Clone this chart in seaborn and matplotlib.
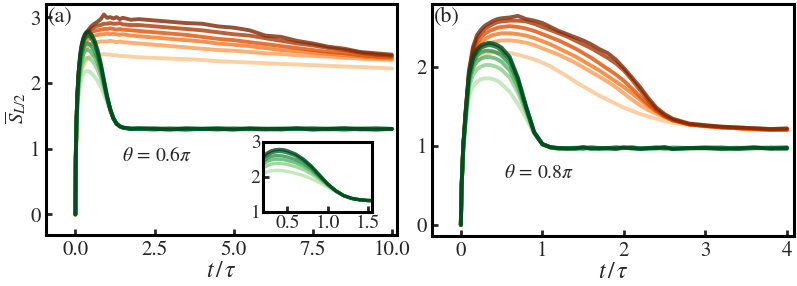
import numpy as np
import pandas as pd
import matplotlib
matplotlib.use("Agg")
import matplotlib.pyplot as plt
import seaborn as sns

# ---- panel (a): theta = 0.6 pi ----
t_a = [0, 0.01, 0.03, 0.06, 0.1, 0.15, 0.2, 0.25, 0.3, 0.35, 0.4, 0.45, 0.5, 0.6, 0.7,
       0.8, 0.9, 1.0, 1.1, 1.2, 1.3, 1.4, 1.5, 1.75, 2.0, 2.5, 3.0, 3.5, 4.0, 4.5,
       5.0, 5.5, 6.0, 6.5, 7.0, 7.5, 8.0, 8.5, 9.0, 9.5, 10.0]

orange_a = [
    [0, 0.75, 1.25, 1.6, 1.87, 2.06, 2.18, 2.26, 2.31, 2.35, 2.38, 2.4, 2.41, 2.42, 2.43,
     2.43, 2.44, 2.43, 2.43, 2.42, 2.42, 2.41, 2.41, 2.4, 2.39, 2.38, 2.37, 2.36, 2.35, 2.33,
     2.32, 2.31, 2.3, 2.29, 2.28, 2.27, 2.26, 2.25, 2.24, 2.23, 2.22],
    [0, 0.78, 1.3, 1.7, 2.0, 2.22, 2.35, 2.44, 2.5, 2.53, 2.56, 2.58, 2.59, 2.61, 2.62,
     2.63, 2.63, 2.63, 2.64, 2.63, 2.62, 2.63, 2.62, 2.61, 2.6, 2.58, 2.56, 2.54, 2.52, 2.5,
     2.49, 2.47, 2.45, 2.44, 2.42, 2.41, 2.4, 2.38, 2.37, 2.36, 2.35],
    [0, 0.79, 1.32, 1.75, 2.08, 2.32, 2.46, 2.55, 2.6, 2.64, 2.66, 2.68, 2.7, 2.72, 2.73,
     2.74, 2.74, 2.75, 2.74, 2.75, 2.74, 2.73, 2.74, 2.72, 2.71, 2.69, 2.67, 2.65, 2.63, 2.6,
     2.58, 2.56, 2.53, 2.5, 2.48, 2.46, 2.44, 2.42, 2.4, 2.38, 2.37],
    [0, 0.8, 1.34, 1.78, 2.12, 2.37, 2.52, 2.61, 2.67, 2.71, 2.73, 2.75, 2.77, 2.79, 2.8,
     2.81, 2.82, 2.82, 2.83, 2.82, 2.81, 2.82, 2.81, 2.8, 2.79, 2.77, 2.75, 2.73, 2.7, 2.67,
     2.65, 2.62, 2.59, 2.56, 2.53, 2.5, 2.47, 2.45, 2.42, 2.4, 2.39],
    [0, 0.8, 1.35, 1.8, 2.14, 2.4, 2.56, 2.65, 2.71, 2.75, 2.78, 2.8, 2.82, 2.85, 2.87,
     2.88, 2.9, 2.9, 2.91, 2.9, 2.9, 2.91, 2.89, 2.88, 2.88, 2.86, 2.84, 2.82, 2.8, 2.77,
     2.74, 2.72, 2.68, 2.64, 2.6, 2.57, 2.53, 2.5, 2.46, 2.43, 2.41],
    [0, 0.8, 1.35, 1.8, 2.15, 2.42, 2.58, 2.67, 2.73, 2.77, 2.8, 2.83, 2.86, 2.9, 2.93,
     2.97, 3.04, 2.99, 3.0, 2.98, 3.0, 2.97, 2.99, 2.96, 2.97, 2.95, 2.93, 2.91, 2.9, 2.86,
     2.84, 2.8, 2.72, 2.7, 2.64, 2.6, 2.55, 2.52, 2.47, 2.45, 2.43],
]

green_a = [
    [0, 0.75, 1.22, 1.56, 1.8, 1.98, 2.08, 2.14, 2.17, 2.18, 2.18, 2.17, 2.15, 2.1, 2.03,
     1.94, 1.83, 1.7, 1.57, 1.46, 1.38, 1.34, 1.32, 1.3, 1.31, 1.29, 1.3, 1.31, 1.3, 1.29,
     1.3, 1.31, 1.3, 1.29, 1.3, 1.31, 1.3, 1.29, 1.3, 1.31, 1.3],
    [0, 0.77, 1.27, 1.65, 1.93, 2.13, 2.25, 2.32, 2.36, 2.38, 2.38, 2.37, 2.35, 2.29, 2.2,
     2.08, 1.92, 1.75, 1.59, 1.46, 1.38, 1.34, 1.32, 1.31, 1.3, 1.3, 1.29, 1.3, 1.31, 1.3,
     1.29, 1.3, 1.31, 1.3, 1.3, 1.29, 1.31, 1.3, 1.3, 1.29, 1.3],
    [0, 0.78, 1.3, 1.7, 2.0, 2.22, 2.36, 2.44, 2.48, 2.5, 2.5, 2.49, 2.46, 2.4, 2.3,
     2.16, 1.97, 1.77, 1.6, 1.46, 1.38, 1.34, 1.32, 1.3, 1.31, 1.3, 1.3, 1.29, 1.3, 1.31,
     1.3, 1.29, 1.3, 1.31, 1.3, 1.3, 1.29, 1.3, 1.31, 1.3, 1.3],
    [0, 0.79, 1.32, 1.74, 2.06, 2.3, 2.44, 2.53, 2.58, 2.6, 2.6, 2.59, 2.56, 2.49, 2.38,
     2.22, 2.0, 1.78, 1.6, 1.46, 1.38, 1.34, 1.32, 1.31, 1.3, 1.29, 1.31, 1.3, 1.3, 1.29,
     1.31, 1.3, 1.3, 1.29, 1.31, 1.3, 1.3, 1.31, 1.29, 1.3, 1.3],
    [0, 0.8, 1.34, 1.78, 2.12, 2.38, 2.53, 2.62, 2.68, 2.71, 2.72, 2.71, 2.68, 2.6, 2.46,
     2.27, 2.03, 1.79, 1.6, 1.46, 1.38, 1.34, 1.32, 1.3, 1.3, 1.31, 1.3, 1.29, 1.3, 1.31,
     1.3, 1.3, 1.29, 1.3, 1.3, 1.31, 1.3, 1.29, 1.3, 1.31, 1.3],
    [0, 0.8, 1.35, 1.8, 2.15, 2.42, 2.58, 2.68, 2.74, 2.77, 2.78, 2.77, 2.74, 2.65, 2.5,
     2.3, 2.05, 1.8, 1.6, 1.46, 1.38, 1.34, 1.32, 1.3, 1.31, 1.3, 1.29, 1.31, 1.3, 1.3,
     1.29, 1.31, 1.3, 1.3, 1.31, 1.29, 1.3, 1.31, 1.3, 1.29, 1.3],
]

# ---- panel (b): theta = 0.8 pi ----
t_b = [0, 0.01, 0.03, 0.06, 0.1, 0.15, 0.2, 0.25, 0.3, 0.35, 0.4, 0.45, 0.5, 0.6, 0.7,
       0.8, 0.9, 1.0, 1.1, 1.2, 1.3, 1.4, 1.5, 1.6, 1.7, 1.8, 1.9, 2.0, 2.1, 2.2,
       2.3, 2.4, 2.5, 2.6, 2.8, 3.0, 3.2, 3.4, 3.6, 3.8, 4.0]

orange_b = [
    [0, 0.48, 0.95, 1.35, 1.75, 1.97, 2.07, 2.12, 2.15, 2.17, 2.18, 2.18, 2.18, 2.17, 2.15,
     2.12, 2.09, 2.05, 2.0, 1.94, 1.88, 1.81, 1.75, 1.69, 1.63, 1.58, 1.53, 1.48, 1.44, 1.4,
     1.37, 1.34, 1.31, 1.29, 1.26, 1.24, 1.23, 1.22, 1.21, 1.2, 1.2],
    [0, 0.49, 0.97, 1.38, 1.82, 2.06, 2.17, 2.23, 2.27, 2.29, 2.31, 2.32, 2.33, 2.33, 2.32,
     2.3, 2.27, 2.23, 2.19, 2.15, 2.1, 2.05, 1.99, 1.93, 1.87, 1.81, 1.74, 1.66, 1.58, 1.51,
     1.45, 1.4, 1.36, 1.32, 1.27, 1.25, 1.23, 1.22, 1.21, 1.2, 1.2],
    [0, 0.49, 0.98, 1.4, 1.86, 2.12, 2.24, 2.31, 2.35, 2.38, 2.4, 2.41, 2.42, 2.42, 2.41,
     2.39, 2.36, 2.32, 2.28, 2.23, 2.18, 2.13, 2.07, 2.01, 1.95, 1.88, 1.81, 1.74, 1.66, 1.58,
     1.5, 1.43, 1.37, 1.32, 1.27, 1.25, 1.23, 1.22, 1.21, 1.2, 1.2],
    [0, 0.5, 0.99, 1.42, 1.9, 2.17, 2.3, 2.37, 2.42, 2.45, 2.47, 2.49, 2.5, 2.51, 2.5,
     2.48, 2.45, 2.41, 2.37, 2.33, 2.28, 2.23, 2.17, 2.11, 2.04, 1.97, 1.9, 1.82, 1.72, 1.62,
     1.52, 1.44, 1.37, 1.32, 1.27, 1.25, 1.23, 1.22, 1.21, 1.2, 1.2],
    [0, 0.5, 1.0, 1.44, 1.93, 2.22, 2.36, 2.43, 2.48, 2.51, 2.54, 2.56, 2.57, 2.58, 2.58,
     2.57, 2.54, 2.5, 2.46, 2.42, 2.38, 2.33, 2.28, 2.23, 2.17, 2.11, 2.04, 1.95, 1.83, 1.7,
     1.57, 1.46, 1.38, 1.33, 1.27, 1.25, 1.24, 1.23, 1.22, 1.21, 1.21],
    [0, 0.5, 1.0, 1.45, 1.95, 2.25, 2.4, 2.47, 2.52, 2.55, 2.58, 2.6, 2.61, 2.62, 2.64,
     2.6, 2.58, 2.55, 2.5, 2.45, 2.41, 2.37, 2.33, 2.28, 2.22, 2.17, 2.09, 1.98, 1.86, 1.74,
     1.6, 1.48, 1.4, 1.34, 1.28, 1.26, 1.24, 1.23, 1.22, 1.21, 1.22],
]

green_b = [
    [0, 0.47, 0.92, 1.28, 1.62, 1.75, 1.81, 1.84, 1.85, 1.85, 1.84, 1.82, 1.78, 1.68, 1.53,
     1.35, 1.15, 1.01, 0.97, 0.96, 0.97, 0.98, 0.96, 0.97, 0.97, 0.96, 0.98, 0.97, 0.96, 0.97,
     0.97, 0.98, 0.96, 0.97, 0.97, 0.96, 0.97, 0.98, 0.96, 0.97, 0.97],
    [0, 0.48, 0.95, 1.33, 1.74, 1.9, 1.97, 2.0, 2.02, 2.02, 2.01, 1.99, 1.96, 1.86, 1.67,
     1.42, 1.16, 1.02, 0.98, 0.97, 0.96, 0.97, 0.98, 0.97, 0.96, 0.97, 0.97, 0.98, 0.96, 0.97,
     0.97, 0.96, 0.98, 0.97, 0.96, 0.97, 0.97, 0.96, 0.98, 0.97, 0.96],
    [0, 0.49, 0.96, 1.36, 1.8, 1.99, 2.07, 2.1, 2.12, 2.12, 2.11, 2.09, 2.06, 1.95, 1.74,
     1.45, 1.16, 1.02, 0.98, 0.97, 0.97, 0.96, 0.97, 0.98, 0.97, 0.96, 0.97, 0.97, 0.98, 0.96,
     0.97, 0.97, 0.96, 0.98, 0.97, 0.97, 0.96, 0.97, 0.97, 0.98, 0.97],
    [0, 0.49, 0.98, 1.38, 1.84, 2.05, 2.14, 2.18, 2.2, 2.2, 2.19, 2.17, 2.14, 2.03, 1.8,
     1.47, 1.17, 1.02, 0.98, 0.96, 0.97, 0.97, 0.96, 0.98, 0.97, 0.97, 0.96, 0.97, 0.98, 0.97,
     0.96, 0.97, 0.98, 0.96, 0.97, 0.97, 0.98, 0.96, 0.97, 0.97, 0.96],
    [0, 0.5, 1.0, 1.41, 1.88, 2.1, 2.19, 2.24, 2.26, 2.27, 2.26, 2.24, 2.2, 2.09, 1.84,
     1.49, 1.17, 1.02, 0.98, 0.97, 0.97, 0.96, 0.98, 0.97, 0.96, 0.97, 0.98, 0.97, 0.97, 0.96,
     0.97, 0.98, 0.97, 0.96, 0.97, 0.98, 0.97, 0.96, 0.97, 0.97, 0.98],
    [0, 0.5, 1.0, 1.42, 1.9, 2.12, 2.22, 2.27, 2.29, 2.3, 2.29, 2.27, 2.24, 2.12, 1.86,
     1.5, 1.17, 1.02, 0.98, 0.97, 0.96, 0.97, 0.98, 0.96, 0.97, 0.97, 0.96, 0.98, 0.97, 0.96,
     0.97, 0.97, 0.98, 0.96, 0.97, 0.97, 0.96, 0.97, 0.98, 0.96, 0.97],
]

levels = np.linspace(0.3, 1.0, 6)
orange_cols = [plt.cm.Oranges(v) for v in levels]
green_cols = [plt.cm.Greens(v) for v in levels]


def to_long(t, curves):
    rows = []
    for k, ys in enumerate(curves):
        rows.append(pd.DataFrame({"t": t, "S": ys, "curve": k}))
    return pd.concat(rows, ignore_index=True)


def draw(ax, t, oranges, greens, lw=2.8):
    sns.lineplot(data=to_long(t, oranges), x="t", y="S", hue="curve",
                 palette=orange_cols, estimator=None, sort=False, legend=False,
                 lw=lw, alpha=0.8, ax=ax)
    sns.lineplot(data=to_long(t, greens), x="t", y="S", hue="curve",
                 palette=green_cols, estimator=None, sort=False, legend=False,
                 lw=lw, alpha=0.8, ax=ax)


def style(ax, size=15):
    for sp in ax.spines.values():
        sp.set_visible(True)
        sp.set_linewidth(2.2)
        sp.set_color("black")
    ax.tick_params(direction="in", length=4, width=2, labelsize=size, pad=4)
    ax.set_xlabel("")
    ax.set_ylabel("")


sns.set_style("ticks")
plt.rcParams["font.family"] = ["STIXGeneral", "DejaVu Serif"]
plt.rcParams["mathtext.fontset"] = "stix"

fig = plt.figure(figsize=(7.97, 2.86), dpi=100)
ax1 = fig.add_axes([0.0577, 0.178, 0.4403, 0.808])
ax2 = fig.add_axes([0.5424, 0.175, 0.4542, 0.811])

draw(ax1, t_a, orange_a, green_a)
style(ax1)
ax1.set_xlim(-0.93, 10.16)
ax1.set_ylim(-0.315, 3.2)
ax1.set_xticks([0, 2.5, 5.0, 7.5, 10.0])
ax1.set_xticklabels(["0.0", "2.5", "5.0", "7.5", "10.0"])
ax1.set_yticks([0, 1, 2, 3])
ax1.set_xlabel(r"$t\,/\,\tau$", fontsize=17, labelpad=0)
ax1.set_ylabel(r"$\overline{S}_{L/2}$", fontsize=15)
ax1.yaxis.set_label_coords(-0.05, 0.55)
ax1.text(0.005, 0.985, "(a)", transform=ax1.transAxes, fontsize=16, va="top", ha="left")
ax1.text(2.58, 0.9, r"$\theta\,=\,0.6\pi$", fontsize=14, ha="center", va="center")

# inset with green curves only
axin = fig.add_axes([0.3304, 0.2598, 0.136, 0.2447])
sns.lineplot(data=to_long(t_a, green_a), x="t", y="S", hue="curve",
             palette=green_cols, estimator=None, sort=False, legend=False,
             lw=2.4, alpha=0.8, ax=axin)
style(axin, size=14)
axin.set_xlim(0.2, 1.55)
axin.set_ylim(1, 3)
axin.set_xticks([0.5, 1.0, 1.5])
axin.set_yticks([1, 2, 3])
axin.tick_params(pad=2)

draw(ax2, t_b, orange_b, green_b)
style(ax2)
ax2.set_xlim(-0.35, 4.09)
ax2.set_ylim(-0.14, 2.79)
ax2.set_xticks([0, 1, 2, 3, 4])
ax2.set_yticks([0, 1, 2])
ax2.set_xlabel(r"$t\,/\,\tau$", fontsize=17, labelpad=0)
ax2.text(0.005, 0.985, "(b)", transform=ax2.transAxes, fontsize=16, va="top", ha="left")
ax2.text(0.96, 0.65, r"$\theta\,=\,0.8\pi$", fontsize=14, ha="center", va="center")

fig.savefig("out.png", dpi=100)
